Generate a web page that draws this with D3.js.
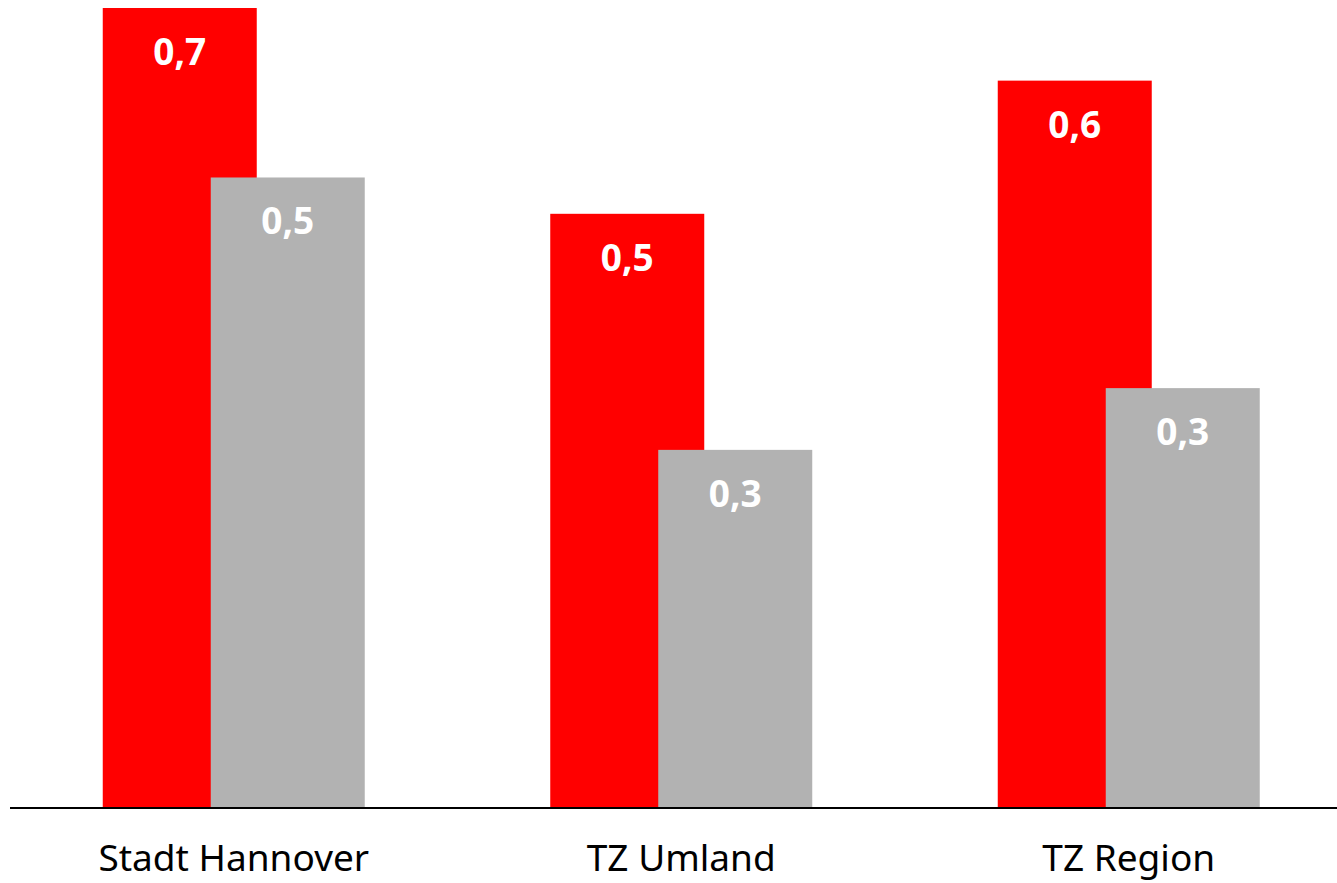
<!DOCTYPE html>
<html>
<head>
<meta charset="utf-8">
<script src="https://cdn.jsdelivr.net/npm/d3@7"></script>
<style>
  body { margin: 0; background: #fff; }
  svg { display: block; font-family: "Noto Sans", "Open Sans", sans-serif; }
</style>
</head>
<body>
<svg id="chart"></svg>
<script>
const categories = ["Stadt Hannover", "TZ Umland", "TZ Region"];
const redValues = [0.66, 0.49, 0.60];   // first series (red)
const greyValues = [0.52, 0.295, 0.346]; // second series (grey)
const redLabels = ["0,7", "0,5", "0,6"];
const greyLabels = ["0,5", "0,3", "0,3"];

const W = 1337, H = 883;
const baseY = 807;
const barW = 154, shift = 108; // grey bar overlaps the red one

const svg = d3.select("#chart").attr("width", W).attr("height", H);

const x0 = d3.scaleBand().domain(categories).range([10, 10 + 3 * 447.5]).padding(0);
const y = d3.scaleLinear().domain([0, 0.66]).range([baseY, 8]);

const groupW = barW + shift;
const left = c => x0(c) + (x0.bandwidth() - groupW) / 2;

const series = [
  {values: redValues, labels: redLabels, color: "#ff0000", off: 0},
  {values: greyValues, labels: greyLabels, color: "#b2b2b2", off: shift}
];

series.forEach(s => {
  const g = svg.append("g");
  g.selectAll("rect")
    .data(categories)
    .join("rect")
    .attr("x", (c, i) => left(c) + s.off)
    .attr("y", (c, i) => y(s.values[i]))
    .attr("width", barW)
    .attr("height", (c, i) => baseY - y(s.values[i]))
    .attr("fill", s.color);
  g.selectAll("text")
    .data(categories)
    .join("text")
    .attr("x", (c, i) => left(c) + s.off + barW / 2)
    .attr("y", (c, i) => y(s.values[i]) + 57)
    .attr("text-anchor", "middle")
    .attr("fill", "#fff")
    .style("font-size", "37px")
    .style("font-weight", "bold")
    .text((c, i) => s.labels[i]);
});

// x axis: plain line with category names, no ticks
const xAxis = d3.axisBottom(x0).tickSize(0).tickPadding(37);
const ax = svg.append("g")
  .attr("transform", `translate(0,${baseY + 1})`)
  .call(xAxis);
ax.select(".domain").remove();
ax.selectAll("text")
  .style("font-size", "37px")
  .style("font-family", "\"Noto Sans\", sans-serif")
  .attr("fill", "#000");
ax.append("line")
  .attr("x1", 10).attr("x2", W)
  .attr("y1", 0).attr("y2", 0)
  .attr("stroke", "#000")
  .attr("stroke-width", 2);
</script>
</body>
</html>
